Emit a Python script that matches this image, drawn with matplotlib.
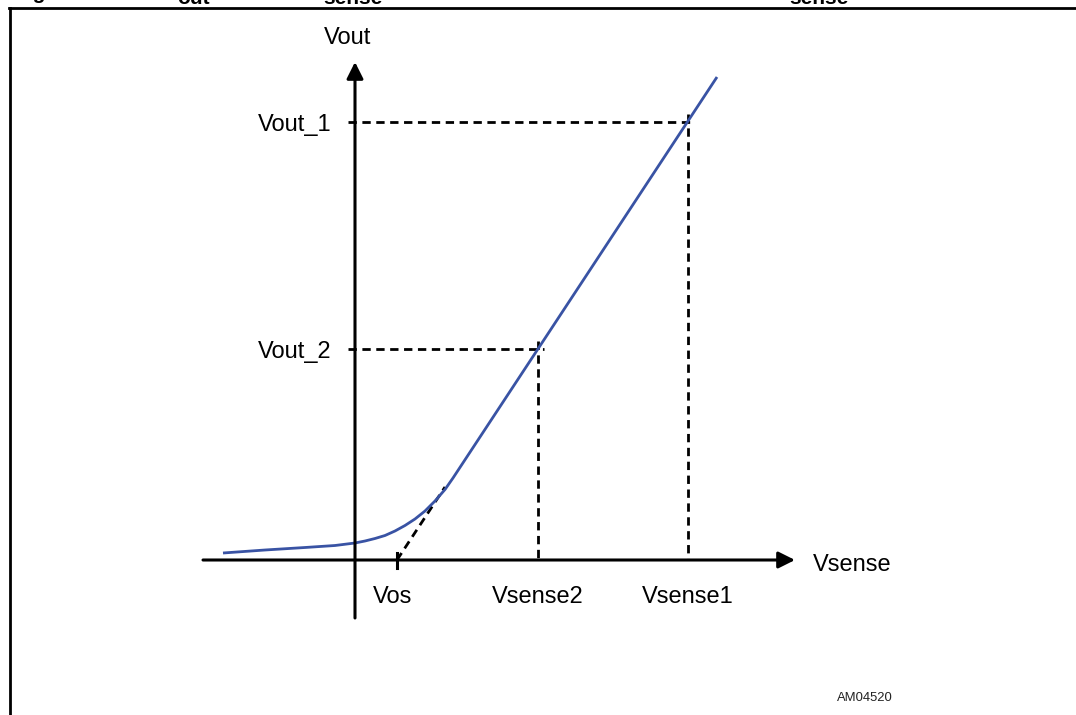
import numpy as np
import matplotlib.pyplot as plt
from matplotlib.lines import Line2D

plt.rcParams['font.family'] = ['Liberation Sans', 'DejaVu Sans']

# Vout vs Vsense transfer curve (arbitrary units, origin at the axes crossing)
curve_x = [-1.32, -0.9, -0.5, -0.2, 0.0, 0.1, 0.2, 0.3, 0.4, 0.5, 0.6, 0.7, 0.8, 0.9, 0.98, 3.62]
curve_y = [0.07, 0.10, 0.125, 0.145, 0.17, 0.19, 0.215, 0.245, 0.29, 0.345, 0.41, 0.49, 0.59, 0.705, 0.82, 4.83]

# extrapolated linear part down to the offset
tangent_x = [0.42, 0.90]
tangent_y = [0.0, 0.73]

vos = 0.42
vsense_points = [1.83, 3.33]       # Vsense2, Vsense1
vout_points = [2.11, 4.38]         # Vout_2, Vout_1
x_tick_labels = ['Vos', 'Vsense2', 'Vsense1']
y_tick_labels = ['Vout_2', 'Vout_1']

blue = '#3953A4'

W, H = 1076, 715
fig = plt.figure(figsize=(W / 100, H / 100), dpi=100)
ax = fig.add_axes([0, 0, 1, 1])
ax.set_xlim(-3.55, 7.21)
ax.set_ylim(-1.55, 5.60)
ax.axis('off')

# frame of the figure box (top and left only, rest is cut off)
fig.add_artist(Line2D([9 / W, 1.0], [1 - 8 / H, 1 - 8 / H], color='black', lw=2.0, transform=fig.transFigure))
fig.add_artist(Line2D([10 / W, 10 / W], [1 - 8 / H, 0], color='black', lw=2.0, transform=fig.transFigure))

# remains of the caption above the box
cap = dict(fontsize=15, fontweight='bold', va='baseline', color='black')
fig.text(14 / W, 1 + 1 / H, 'Figure 5.', **cap)
fig.text(177 / W, 1 - 4 / H, 'out', **cap)
fig.text(323 / W, 1 - 4 / H, 'sense', **cap)
fig.text(789 / W, 1 - 4 / H, 'sense', **cap)

# axes with arrows
ax.annotate('', xy=(4.40, 0), xytext=(-1.52, 0),
            arrowprops=dict(arrowstyle='-|>', lw=2.2, color='black', mutation_scale=25, shrinkA=0, shrinkB=0))
ax.annotate('', xy=(0, 4.98), xytext=(0, -0.58),
            arrowprops=dict(arrowstyle='-|>', lw=2.2, color='black', mutation_scale=25, shrinkA=0, shrinkB=0))

# dashed projections
dash = dict(color='black', lw=2.0, linestyle=(0, (3, 2)))
for xs, ys in zip(vsense_points, vout_points):
    ax.plot([-0.07, xs + 0.06], [ys, ys], **dash)
    ax.plot([xs, xs], [ys + 0.08, 0], **dash)
ax.plot(tangent_x, tangent_y, **dash)
ax.plot([vos, vos], [-0.08, 0.07], color='black', lw=2.2)

# curve
ax.plot(curve_x, curve_y, color=blue, lw=2.0, solid_capstyle='butt', solid_joinstyle='round')

# labels
lab = dict(fontsize=17, color='black')
ax.text(-0.07, 5.16, 'Vout', ha='center', va='baseline', **lab)
ax.text(4.58, -0.11, 'Vsense', ha='left', va='baseline', **lab)
for xv, t in zip([vos - 0.04] + vsense_points, x_tick_labels):
    ax.text(xv, -0.43, t, ha='center', va='baseline', **lab)
for yv, t in zip(vout_points, y_tick_labels):
    ax.text(-0.23, yv - 0.09, t, ha='right', va='baseline', **lab)

ax.text(5.38, -1.41, 'AM04520', ha='right', va='baseline', fontsize=9.4, color='#222222')

plt.savefig('out.png', dpi=100)
